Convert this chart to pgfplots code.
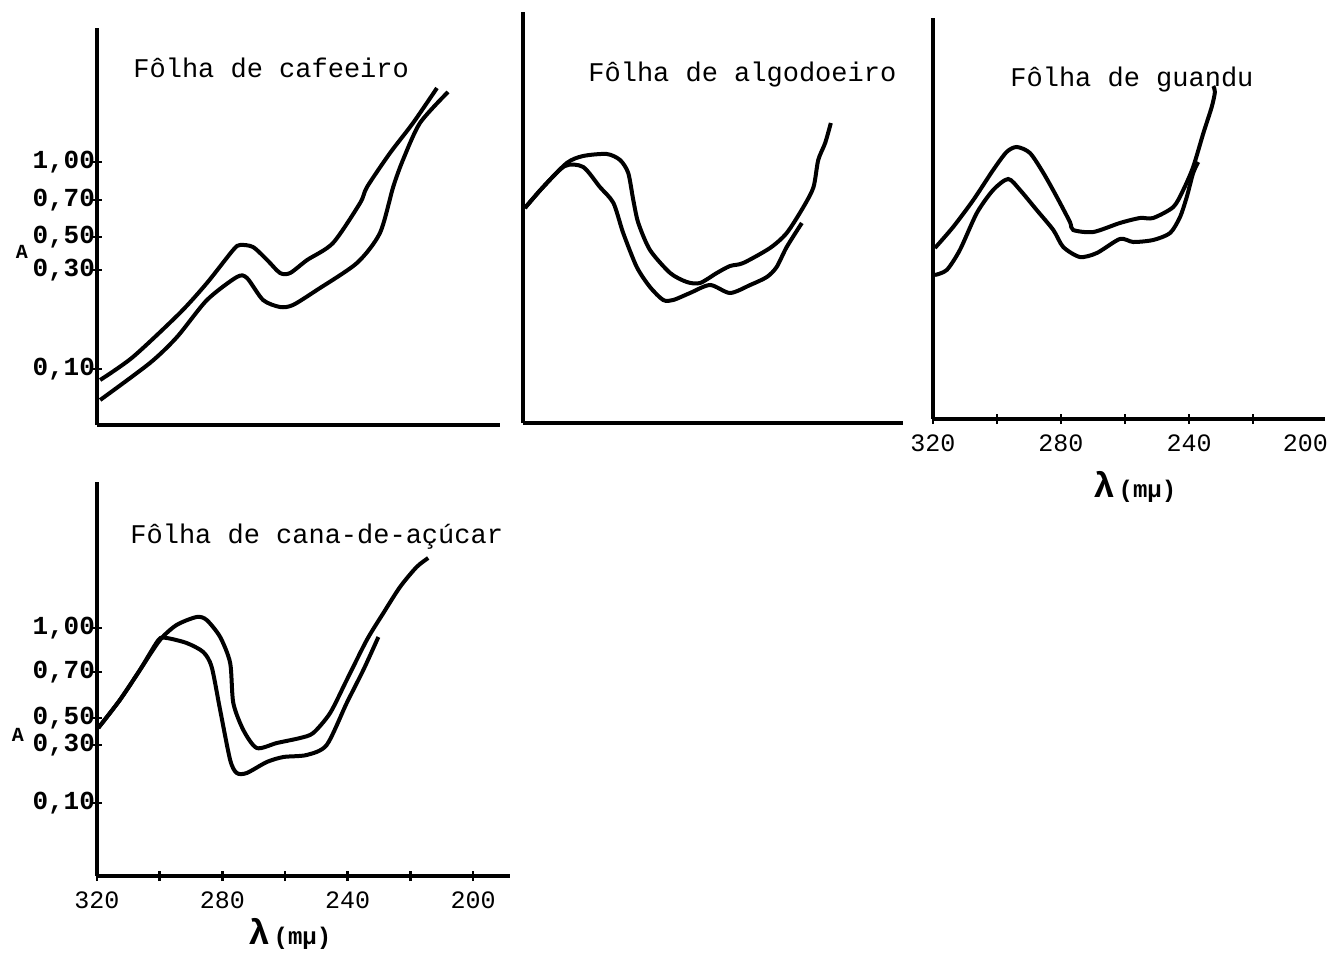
\documentclass[border=0pt]{standalone}
\usepackage{fontspec}
\setmainfont{Liberation Mono}
\usepackage{pgfplots}
\pgfplotsset{compat=1.18}

% 1 px of the scan = 0.5pt
\pgfplotsset{
  panel/.style={scale only axis, x dir=reverse,
    axis x line*=bottom, axis y line*=left,
    axis line style={-, line width=1.6pt},
    ymin=0, clip=false, xtick=\empty, ytick=\empty,
    tick style={line width=1.2pt, black}, major tick length=5pt, tick align=center,
    yticklabel style={font=\fontsize{13}{15}\selectfont\bfseries, xshift=5pt},
    xticklabel style={font=\fontsize{12.5}{15}\selectfont, yshift=-2pt}},
  curve/.style={black, line width=2pt, smooth, tension=0.45, no marks},
}

\begin{document}
\begin{tikzpicture}
\useasboundingbox (0,0) rectangle (665pt,-476.5pt);

% Folha de cafeeiro
\begin{axis}[panel, at={(48.5pt,-212.5pt)}, anchor=south west,
  width=201.5pt, height=198.5pt, xmin=192.1, xmax=320, ymax=397,
  ytick={56,155,188,225,263}, yticklabels={{0,10},{0,30},{0,50},{0,70},{1,00}}]
\addplot[curve] coordinates {(319.0,45) (308.6,68) (293.7,112) (285.1,142) (276.8,175)
  (274.6,180) (270.5,178) (266,165) (261.9,152) (258.7,152) (253.3,165)
  (245.1,182) (236.5,222) (234.3,238) (227,272) (219.7,302) (212.1,337)};
\addplot[curve] coordinates {(319.0,25) (303.2,62) (294.6,88) (285.1,125) (275.6,148)
  (272.4,147) (267.3,125) (261.9,118) (257.8,120) (250.2,135) (237.5,162)
  (230.2,192) (226.0,238) (222.9,265) (217.5,302) (208.6,333)};
\end{axis}

% Folha de algodoeiro
\begin{axis}[panel, at={(261.5pt,-211.5pt)}, anchor=south west,
  width=190pt, height=205.5pt, xmin=199.4, xmax=320, ymax=411]
\addplot[curve] coordinates {(319.4,215) (313.6,236) (306.1,260) (300.9,267) (293.4,269)
  (289.2,263) (286.6,250) (285.0,223) (283.4,200) (279.7,173) (273.3,150)
  (268.0,141) (263.8,140) (258.5,150) (254.3,157) (250.1,160) (241.6,175)
  (236.3,190) (231.0,216) (227.8,236) (226.3,263) (224.1,280) (222.3,300)};
\addplot[curve] coordinates {(319.4,215) (313.6,236) (306.7,257) (300.9,256) (295.6,236)
  (291.3,220) (288.2,190) (283.9,156) (279.7,136) (275.5,123) (272.3,123)
  (267.0,130) (260.6,138) (254.3,130) (247.9,138) (242.6,146) (239.5,156)
  (236.3,176) (231.5,200)};
\end{axis}

% Folha de guandu
\begin{axis}[panel, at={(466.5pt,-209.5pt)}, anchor=south west,
  width=196pt, height=200.5pt, xmin=197.5, xmax=320, ymax=401,
  xtick={320,300,280,260,240,220}, xticklabels={320,,280,,240,},
  extra x ticks={203.6}, extra x tick labels={200},
  extra x tick style={major tick length=0pt, xticklabel style={yshift=-2.5pt}}]
\addplot[curve] coordinates {(319.4,171) (313.7,192) (307.4,219) (301.2,249) (297.0,267)
  (293.8,272) (289.7,266) (285.5,246) (281.3,222) (277.2,197) (276.2,189)
  (269.9,187) (261.6,196) (255.3,201) (251.2,201) (244.9,212) (241.8,229)
  (238.7,252) (235.5,286) (232.9,312) (231.9,327) (232.4,333)};
\addplot[curve] coordinates {(319.4,144) (315.7,149) (311.6,169) (306.3,206) (301.2,229)
  (296.5,240) (292.8,229) (287.6,209) (282.4,189) (279.3,172) (274.1,162)
  (268.8,166) (261.6,180) (257.4,177) (251.2,179) (245.9,186) (242.8,202)
  (240.7,222) (238.7,246) (237.1,257)};
\end{axis}

% Folha de cana-de-acucar
\begin{axis}[panel, at={(48.5pt,-438pt)}, anchor=south west,
  width=206.5pt, height=197pt, xmin=188.2, xmax=320, ymax=394,
  xtick={320,300,280,260,240,220,200}, xticklabels={320,,280,,240,,200},
  ytick={73,131,158,204,248}, yticklabels={{0,10},{0,30},{0,50},{0,70},{1,00}}]
\addplot[curve] coordinates {(319.6,148) (312.7,176) (306.3,206) (299.9,236) (294.6,251)
  (288.2,259) (285.0,256) (280.7,239) (277.5,213) (276.5,173) (273.3,146)
  (269.0,128) (262.6,133) (255.2,138) (251.0,143) (245.6,163) (240.3,196)
  (233.9,236) (228.6,263) (223.3,289) (218.0,309) (214.3,318)};
\addplot[curve] coordinates {(319.6,148) (312.7,176) (306.3,206) (300.4,236) (297.8,238)
  (291.4,233) (286.1,224) (283.4,209) (280.7,166) (277.5,116) (275.4,103)
  (272.2,103) (265.8,114) (260.5,119) (253.1,121) (246.7,131) (240.3,173)
  (235.0,206) (230.2,239)};
\end{axis}

\begin{scope}[every node/.style={font=\fontsize{13.5}{15}\selectfont, anchor=west, inner sep=0pt}]
\node at (66.5pt,-34pt) {Fôlha de cafeeiro};
\node at (294pt,-37.5pt) {Fôlha de algodoeiro};
\node at (505pt,-40pt) {Fôlha de guandu};
\node at (65pt,-268.5pt) {Fôlha de cana-de-açúcar};
\end{scope}
\node[font=\fontsize{10}{12}\selectfont\bfseries] at (11pt,-126pt) {A};
\node[font=\fontsize{10}{12}\selectfont\bfseries] at (9pt,-367.5pt) {A};
\node[font=\bfseries, inner sep=0pt] at (567.5pt,-243.5pt) {{\fontsize{18}{20}\selectfont λ}\,{\fontsize{12}{14}\selectfont (mμ)}};
\node[font=\bfseries, inner sep=0pt] at (145pt,-467pt) {{\fontsize{18}{20}\selectfont λ}\,{\fontsize{12}{14}\selectfont (mμ)}};
\end{tikzpicture}
\end{document}
